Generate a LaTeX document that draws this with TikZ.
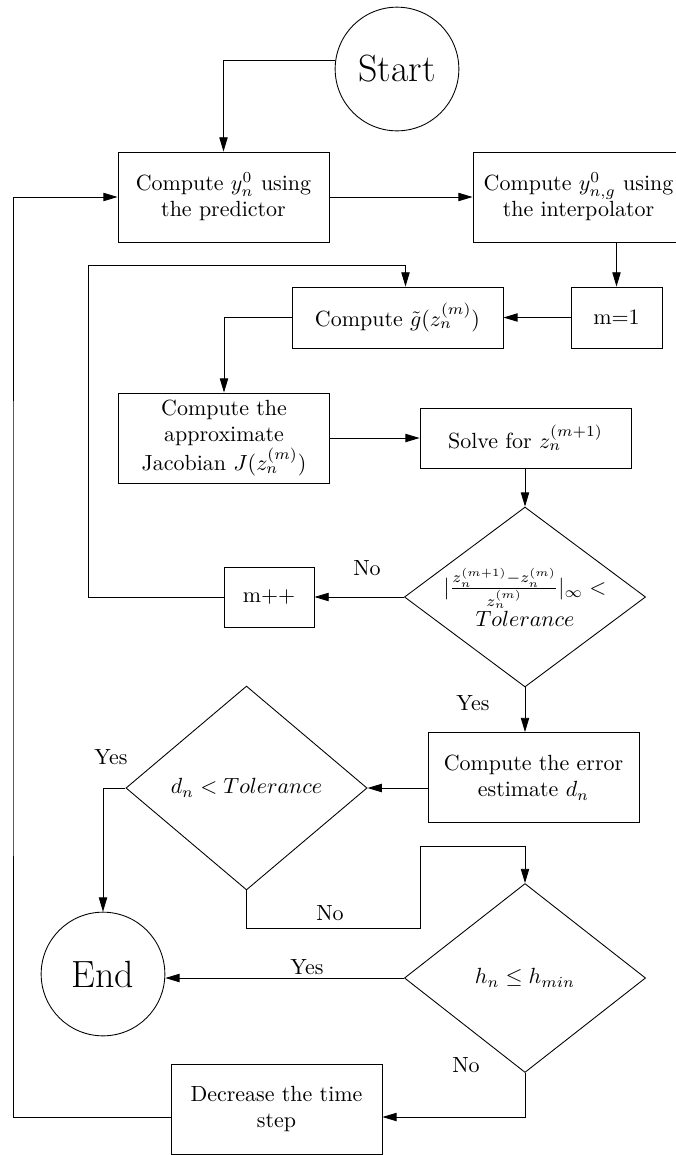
\documentclass[tikz,border=0pt]{standalone}
\usepackage{amsmath}
\usepackage{amssymb}
\usetikzlibrary{arrows.meta,positioning,shapes.geometric}

\begin{document}
\begin{tikzpicture}[x=0.016cm, y=-0.016cm,
    block/.style={rectangle, draw, align=center, inner sep=0pt, minimum width=3.376cm, minimum height=1.44cm},
    decision/.style={diamond, draw, align=center, inner sep=0pt, minimum width=3.86cm},
    terminal/.style={circle, draw, inner sep=0pt, minimum size=1.98cm, font=\LARGE},
    arr/.style={-{Triangle[length=6.5pt,width=3.8pt]}},
    lbl/.style={inner sep=1pt}]
  \useasboundingbox (0,0) rectangle (676,1155);

  \node[terminal] (start) at (397,69) {Start};
  \node[block] (pred) at (223.5,197) {Compute $y_n^0$ using\\the predictor};
  \node[block] (interp) at (578.5,197) {Compute $y_{n,g}^0$ using\\the interpolator};
  \node[block, minimum width=1.456cm, minimum height=0.976cm] (m1) at (616.5,317.5) {m=1};
  \node[block, minimum height=0.976cm] (gtil) at (397.5,317.5) {Compute $\tilde{g}(z_n^{(m)})$};
  \node[block] (jac) at (224,438) {Compute the\\approximate\\Jacobian $J(z_n^{(m)})$};
  \node[block, minimum height=0.96cm] (solve) at (525.5,438) {Solve for $z_n^{(m+1)}$};
  \node[decision, minimum height=2.88cm, aspect=1.34] (tol) at (525,597)
    {$|\frac{z_n^{(m+1)}-z_n^{(m)}}{z_n^{(m)}}|_\infty <$\\$Tolerance$};
  \node[block, minimum width=1.44cm, minimum height=0.96cm] (mpp) at (269,597) {m++};
  \node[block] (err) at (533.5,777.5) {Compute the error\\estimate $d_n$};
  \node[decision, minimum height=3.264cm, aspect=1.19] (dn) at (246.5,788) {$d_n < Tolerance$};
  \node[terminal] (end) at (103,974) {End};
  \node[decision, minimum height=3.024cm, aspect=1.27] (hn) at (525,978) {$h_n \leq h_{min}$};
  \node[block] (dec) at (276.5,1109) {Decrease the time\\step};

  \coordinate (loopA) at (88,265);
  \coordinate (noA) at (420,928);
  \coordinate (noB) at (420,846);
  \coordinate (back) at (13,600);

  \draw[arr] (start.172) -| (pred.north);
  \draw[arr] (pred) -- (interp);
  \draw[arr] (interp.south -| m1.north) -- (m1.north);
  \draw[arr] (m1) -- (gtil);
  \draw[arr] (gtil.west) -| (jac.north);
  \draw[arr] (jac) -- (solve);
  \draw[arr] (solve.south -| tol.north) -- (tol.north);
  \draw[arr] (tol.west) -- (mpp.east);
  \draw[arr] (mpp.west) -| (loopA) -| ([xshift=0.128cm]gtil.north);
  \draw[arr] (tol.south) -- (tol.south |- err.north);
  \draw[arr] (dn.east -| err.west) -- (dn.east);
  \draw[arr] (dn.west) -| (end.north);
  \draw[arr] (dn.south) |- (noA) -- (noB) -| (hn.north);
  \draw[arr] (hn.west) -- (hn.west -| end.east);
  \draw[arr] (hn.south) |- ([yshift=-0.128cm]dec.east);
  \draw[arr] ([yshift=-0.128cm]dec.west) -| (back) |- (pred.west);

  \node[lbl] (lno1) at (367,568) {No};
  \node[lbl] (lyes1) at (473,703) {Yes};
  \node[lbl] (lyes2) at (111,757) {Yes};
  \node[lbl] (lno2) at (330,913) {No};
  \node[lbl] (lyes3) at (307,967) {Yes};
  \node[lbl] (lno3) at (466,1065) {No};
\end{tikzpicture}
\end{document}
